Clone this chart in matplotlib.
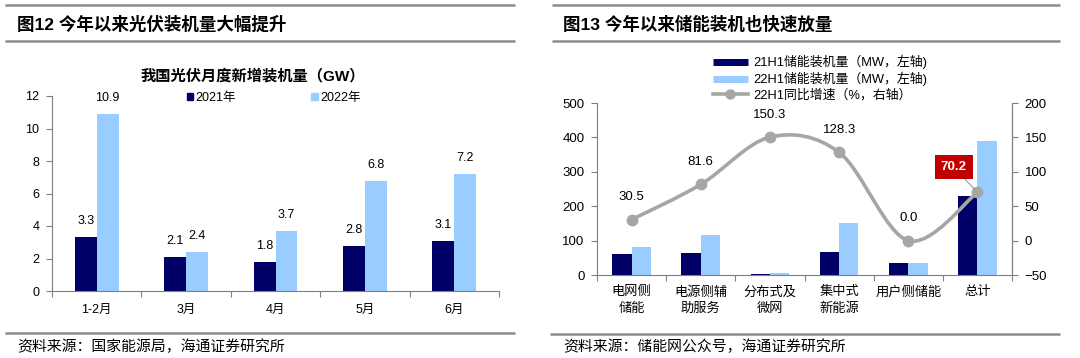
import matplotlib
matplotlib.use('Agg')
import matplotlib.pyplot as plt
from matplotlib.lines import Line2D
from matplotlib.patches import Patch, PathPatch
from matplotlib.path import Path
import numpy as np

plt.rcParams['font.family'] = ['Liberation Sans', 'Noto Sans CJK SC', 'DejaVu Sans']

# ---------------- data ----------------
left_title = '图12 今年以来光伏装机量大幅提升'
left_chart_title = '我国光伏月度新增装机量（GW）'
left_source = '资料来源：国家能源局，海通证券研究所'
pv_categories = ['1-2月', '3月', '4月', '5月', '6月']
pv_2021 = [3.3, 2.1, 1.8, 2.8, 3.1]
pv_2022 = [10.9, 2.4, 3.7, 6.8, 7.2]
pv_series_names = ['2021年', '2022年']
pv_yticks = [0, 2, 4, 6, 8, 10, 12]

right_title = '图13 今年以来储能装机也快速放量'
right_source = '资料来源：储能网公众号，海通证券研究所'
es_categories = ['电网侧\n储能', '电源侧辅\n助服务', '分布式及\n微网', '集中式\n新能源', '用户侧储能', '总计']
es_21h1 = [61, 64, 3, 66, 35, 231]
es_22h1 = [80, 115, 7, 150, 35, 390]
es_growth = [30.5, 81.6, 150.3, 128.3, 0.0, 70.2]
es_series_names = ['21H1储能装机量（MW，左轴)', '22H1储能装机量（MW，左轴)', '22H1同比增速（%，右轴）']
es_left_ticks = [0, 100, 200, 300, 400, 500]
es_right_ticks = [-50, 0, 50, 100, 150, 200]

# ---------------- style ----------------
NAVY = '#000066'
LIGHT = '#99CCFF'
GRAY_LINE = '#A6A6A6'
RULE = '#8C8C8C'
AXIS = '#7F7F7F'
RED = '#C00000'

W, H = 1080, 358
fig = plt.figure(figsize=(W / 100, H / 100), dpi=100)


def fx(px):
    return px / W


def fy(py):
    return 1 - py / H


def rule(x0, x1, y, lw=1.8):
    fig.add_artist(Line2D([fx(x0), fx(x1)], [fy(y), fy(y)], transform=fig.transFigure,
                          lw=lw, color=RULE, solid_capstyle='butt'))


def axes_px(x0, x1, ytop, ybot):
    return fig.add_axes([fx(x0), fy(ybot), (x1 - x0) / W, (ybot - ytop) / H])


# header / footer rules
for (a, b) in [(5, 515), (552, 1060)]:
    rule(a, b, 5)
    rule(a, b, 41)
rule(5, 515, 333)
rule(550, 1060, 334)

fig.text(fx(17), fy(24), left_title, fontsize=12.6, fontweight='bold', va='center', ha='left')
fig.text(fx(563), fy(24), right_title, fontsize=12.6, fontweight='bold', va='center', ha='left')
fig.text(fx(17), fy(347), left_source, fontsize=10.7, va='center', ha='left')
fig.text(fx(563), fy(347), right_source, fontsize=10.7, va='center', ha='left')

# ---------------- left chart ----------------
ax1 = axes_px(52, 499, 96, 291)
x = np.arange(len(pv_categories))
w = 0.245
ax1.bar(x - w / 2, pv_2021, w, color=NAVY)
ax1.bar(x + w / 2, pv_2022, w, color=LIGHT)
for xi, v in zip(x - w / 2, pv_2021):
    ax1.annotate(f'{v:.1f}', (xi, v), xytext=(0, 11.5), textcoords='offset points',
                 ha='center', va='center', fontsize=9)
for xi, v in zip(x + w / 2, pv_2022):
    ax1.annotate(f'{v:.1f}', (xi, v), xytext=(0, 11.5), textcoords='offset points',
                 ha='center', va='center', fontsize=9)
ax1.set_xlim(-0.5, len(x) - 0.5)
ax1.set_ylim(0, 12)
ax1.set_yticks(pv_yticks)
ax1.set_xticks(np.arange(-0.5, len(x)), labels=[''] * (len(x) + 1))
ax1.set_xticks(x, minor=True)
ax1.set_xticklabels(pv_categories, minor=True, fontsize=9)
ax1.tick_params(axis='x', which='major', length=4, width=0.8, color=AXIS, direction='out')
ax1.tick_params(axis='x', which='minor', length=0, pad=9)
ax1.tick_params(axis='y', length=4, width=0.8, color=AXIS, labelsize=9, pad=5)
for s in ['top', 'right']:
    ax1.spines[s].set_visible(False)
for s in ['left', 'bottom']:
    ax1.spines[s].set_color(AXIS)
    ax1.spines[s].set_linewidth(0.8)
fig.text(fx(253), fy(76), left_chart_title, fontsize=11, fontweight='bold', ha='center', va='center')

h1 = [Patch(color=NAVY), Patch(color=LIGHT)]
fig.legend(h1, pv_series_names, loc='upper left', bbox_to_anchor=(fx(187), fy(92)),
           ncol=2, frameon=False, fontsize=9, handlelength=0.5, handleheight=0.5,
           handletextpad=0.2, columnspacing=6.0, borderpad=0, borderaxespad=0)

# ---------------- right chart ----------------
ax2 = axes_px(597, 1012, 103, 275)
xr = np.arange(len(es_categories))
wr = 0.28
ax2.bar(xr - wr / 2, es_21h1, wr, color=NAVY)
ax2.bar(xr + wr / 2, es_22h1, wr, color=LIGHT)
ax2.set_xlim(-0.5, len(xr) - 0.5)
ax2.set_ylim(0, 500)
ax2.set_yticks(es_left_ticks)
ax2.set_xticks(np.arange(-0.5, len(xr)), labels=[''] * (len(xr) + 1))
ax2.set_xticks(xr, minor=True)
ax2.set_xticklabels(es_categories, minor=True, fontsize=9.5, linespacing=1.45)
ax2.tick_params(axis='x', which='major', length=4, width=0.8, color=AXIS, direction='out')
ax2.tick_params(axis='x', which='minor', length=0, pad=8)
ax2.tick_params(axis='y', length=4, width=0.8, color=AXIS, labelsize=9.5, pad=5)
ax2.spines['top'].set_visible(False)
for s in ['left', 'bottom', 'right']:
    ax2.spines[s].set_color(AXIS)
    ax2.spines[s].set_linewidth(0.8)

ax3 = ax2.twinx()
ax3.set_ylim(-50, 200)
ax3.set_yticks(es_right_ticks)
ax3.tick_params(axis='y', length=4, width=0.8, color=AXIS, labelsize=9.5, pad=5)
for s in ['top', 'left', 'bottom']:
    ax3.spines[s].set_visible(False)
ax3.spines['right'].set_color(AXIS)
ax3.spines['right'].set_linewidth(0.8)


def smooth_path(xs, ys):
    pts = np.column_stack([xs, ys]).astype(float)
    n = len(pts)
    verts = [pts[0]]
    codes = [Path.MOVETO]
    for i in range(n - 1):
        p0 = pts[i - 1] if i > 0 else pts[i]
        p1 = pts[i]
        p2 = pts[i + 1]
        p3 = pts[i + 2] if i + 2 < n else pts[i + 1]
        verts += [p1 + (p2 - p0) / 6, p2 - (p3 - p1) / 6, p2]
        codes += [Path.CURVE4] * 3
    return Path(verts, codes)


ax3.add_patch(PathPatch(smooth_path(xr, es_growth), fill=False, ec=GRAY_LINE, lw=2.6,
                        capstyle='round', joinstyle='round'))
ax3.plot(xr, es_growth, ls='none', marker='o', ms=7.5, color=GRAY_LINE)

for i, v in enumerate(es_growth):
    if i == len(es_growth) - 1:
        ax3.annotate(f'{v:.1f}', (xr[i], v), xytext=(-17, 18), textcoords='offset points',
                     ha='center', va='center', fontsize=9.5, fontweight='bold', color='white',
                     bbox=dict(boxstyle='square,pad=0.45', fc=RED, ec='none'),
                     arrowprops=dict(arrowstyle='-', color='#8C8C8C', lw=0.7,
                                     shrinkA=0, shrinkB=3))
    else:
        ax3.annotate(f'{v:.1f}', (xr[i], v), xytext=(0, 16), textcoords='offset points',
                     ha='center', va='center', fontsize=9.5)

h2 = [Line2D([], [], color=NAVY, lw=5, solid_capstyle='butt'),
      Line2D([], [], color=LIGHT, lw=5, solid_capstyle='butt'),
      Line2D([], [], color=GRAY_LINE, lw=2.6, marker='o', ms=6.5)]
fig.legend(h2, es_series_names, loc='upper left', bbox_to_anchor=(fx(713), fy(55)),
           frameon=False, fontsize=9.3, handlelength=2.7, handletextpad=0.4,
           labelspacing=0.2, borderpad=0, borderaxespad=0)

fig.savefig('out.png', dpi=100)
